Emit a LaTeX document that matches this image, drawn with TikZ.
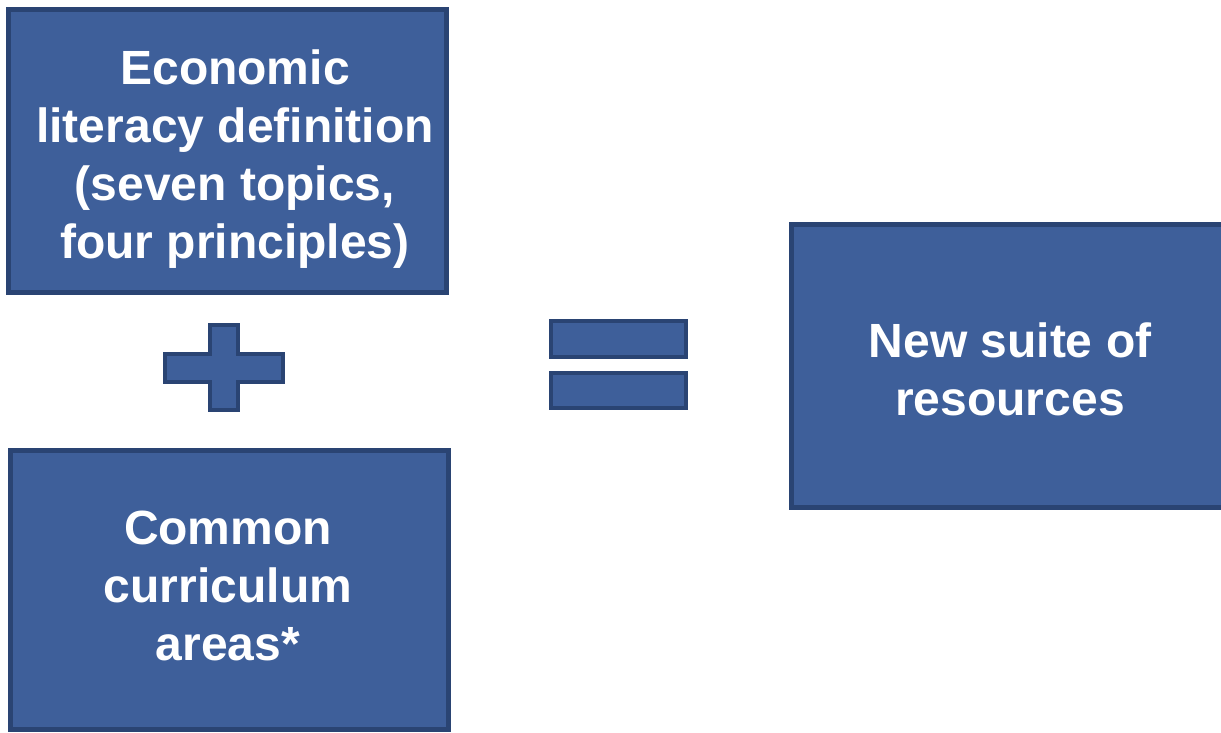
\documentclass[tikz,border=0pt]{standalone}
\usepackage{fontspec}
\setmainfont{Liberation Sans}
\definecolor{boxfill}{RGB}{62,95,154}
\definecolor{boxline}{RGB}{42,68,115}
\tikzset{
  x=1pt,y=-1pt,
  shapebox/.style={draw=boxline,fill=boxfill,line width=5pt,line join=miter},
  txt/.style={text=white,align=center,font=\fontsize{48}{58}\selectfont\bfseries,inner sep=0pt}
}
\begin{document}
\begin{tikzpicture}
\useasboundingbox (0,0) rectangle (1221,733);
% boxes
\draw[shapebox] (8.5,9.5) rectangle (446.5,292.5);
\draw[shapebox] (10.5,450.5) rectangle (448.5,729.5);
\draw[shapebox] (791.5,224.5) rectangle (1230,507.5);
% plus
\draw[shapebox,line width=4pt] (210,325) -- (238,325) -- (238,353.5) -- (283,353.5) -- (283,381.5) -- (238,381.5) -- (238,410) -- (210,410) -- (210,381.5) -- (165,381.5) -- (165,353.5) -- (210,353.5) -- cycle;
% equals
\draw[shapebox,line width=4pt] (551,321) rectangle (686,357);
\draw[shapebox,line width=4pt] (551,373) rectangle (686,408);
% texts
\node[txt] (t1) at (235,159) {Economic\\literacy definition\\(seven topics,\\four principles)};
\node[txt] (t2) at (228,586) {Common\\curriculum\\areas*};
\node[txt] (t3) at (1010,369) {New suite of\\resources};
\end{tikzpicture}
\end{document}
